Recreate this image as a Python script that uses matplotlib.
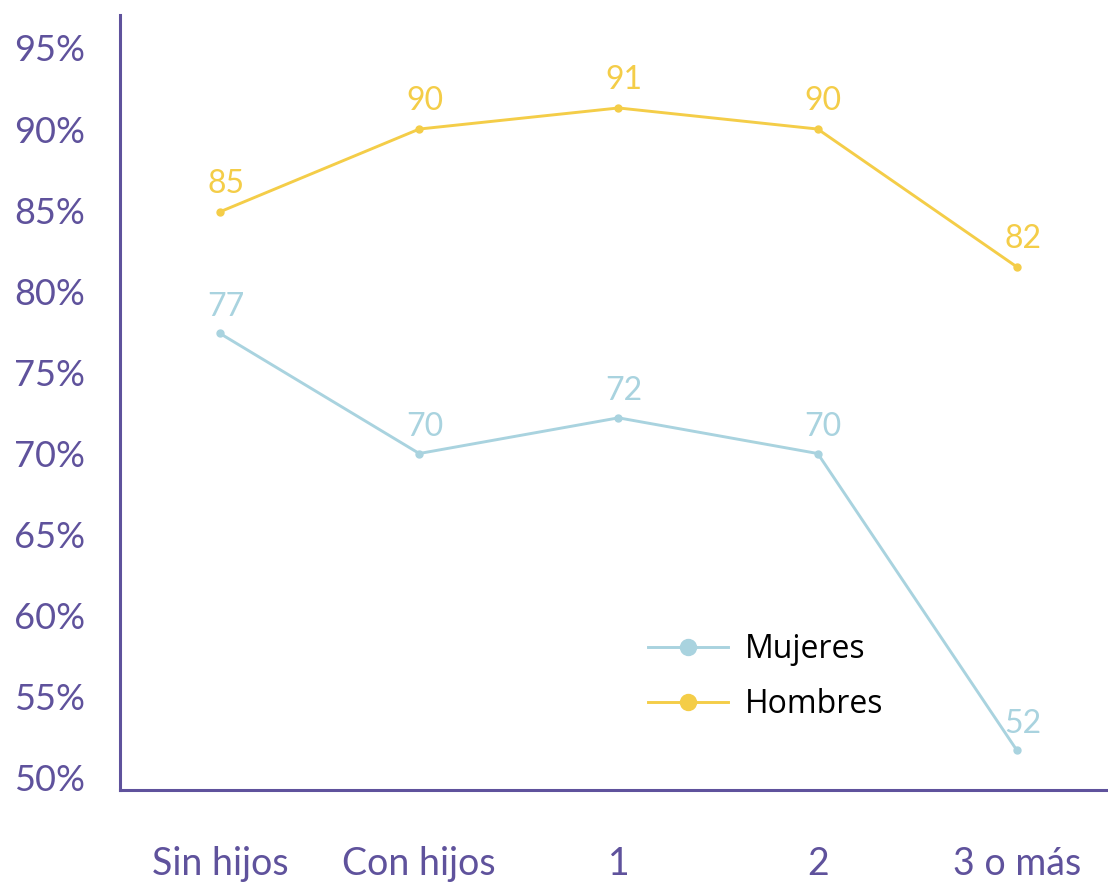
import numpy as np
import matplotlib.pyplot as plt

categorias = ["Sin hijos", "Con hijos", "1", "2", "3 o más"]
mujeres = [77.4, 70.0, 72.2, 70.0, 51.7]
hombres = [84.9, 90.0, 91.3, 90.0, 81.5]
etiquetas_muj = ["77", "70", "72", "70", "52"]
etiquetas_hom = ["85", "90", "91", "90", "82"]
yticks = [50, 55, 60, 65, 70, 75, 80, 85, 90, 95]

MORADO = "#5f529c"
AZUL = "#a9d3df"
AMARILLO = "#f4cd48"

plt.rcParams['font.family'] = ['Lato', 'DejaVu Sans']

fig = plt.figure(figsize=(11.08, 8.82), dpi=100)
ax = fig.add_axes([120/1108, 92/882, 988/1108, 775/882])

x = np.arange(len(categorias))
ax.plot(x, mujeres, color=AZUL, lw=2.1, marker="o", ms=5, label="Mujeres")
ax.plot(x, hombres, color=AMARILLO, lw=2.1, marker="o", ms=5, label="Hombres")

for xi, v, t in zip(x, mujeres, etiquetas_muj):
    ax.annotate(t, (xi, v), xytext=(4, 19), textcoords="offset points",
                ha="center", va="center", fontsize=23, color=AZUL)
for xi, v, t in zip(x, hombres, etiquetas_hom):
    ax.annotate(t, (xi, v), xytext=(4, 20), textcoords="offset points",
                ha="center", va="center", fontsize=23, color=AMARILLO)

ax.set_xlim(-0.502, 4.457)
ax.set_ylim(49.26, 97.03)
ax.set_xticks(x)
ax.set_xticklabels(categorias)
ax.set_yticks(yticks)
ax.set_yticklabels([f"{t}%" for t in yticks])
ax.tick_params(axis="y", length=0, labelsize=26, colors=MORADO, pad=25)
ax.tick_params(axis="x", length=0, labelsize=27, colors=MORADO, pad=40)

for s in ["top", "right"]:
    ax.spines[s].set_visible(False)
for s in ["left", "bottom"]:
    ax.spines[s].set_color(MORADO)
    ax.spines[s].set_linewidth(2.2)

leg = ax.legend(loc="upper left", bbox_to_anchor=(0.505, 0.24), frameon=False,
                markerscale=2.3, handlelength=2.5, handletextpad=0.55,
                labelspacing=0.7, prop={'family': ['Open Sans', 'DejaVu Sans'], 'size': 23})

fig.savefig("out.png", dpi=100)
